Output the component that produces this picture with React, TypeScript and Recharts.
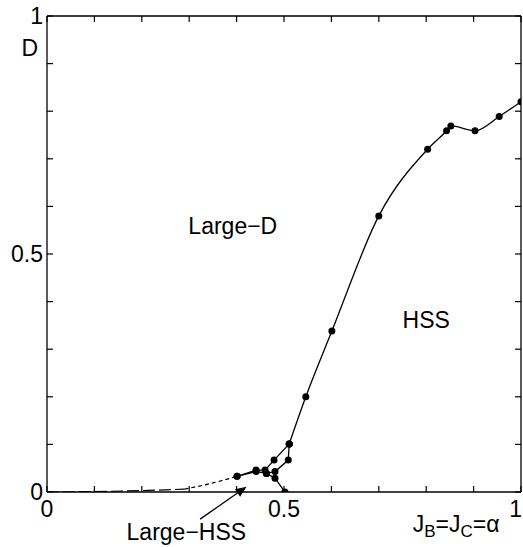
import { LineChart, Line, XAxis, YAxis, ReferenceLine, ReferenceDot } from 'recharts';

const FONT = '"Liberation Sans", Arial, Helvetica, sans-serif';
const FS = 23;
const PLOT_W = 474;
const PLOT_H = 476;

const xTicks = [0, 0.1, 0.2, 0.3, 0.4, 0.5, 0.6, 0.7, 0.8, 0.9, 1];
const yTicks = [0, 0.1, 0.2, 0.3, 0.4, 0.5, 0.6, 0.7, 0.8, 0.9, 1];
const tickLabels: Record<string, string> = { '0': '0', '0.5': '0.5', '1': '1' };

// Large-D / HSS boundary
const mainX = [0.511, 0.546, 0.601, 0.7, 0.803, 0.843, 0.852, 0.903, 0.954, 1.0];
const mainY = [0.101, 0.2, 0.338, 0.58, 0.72, 0.759, 0.769, 0.759, 0.789, 0.82];

// Large-HSS pocket
const upperX = [0.401, 0.441, 0.46, 0.479, 0.511];
const upperY = [0.033, 0.046, 0.046, 0.067, 0.101];
const lowerX = [0.401, 0.441, 0.463, 0.481, 0.509, 0.511];
const lowerY = [0.033, 0.043, 0.039, 0.043, 0.067, 0.101];
const branchX = [0.463, 0.481, 0.502];
const branchY = [0.039, 0.029, 0.0];

// dashed extrapolation
const flatX = [0, 0.1, 0.2, 0.29];
const flatY = [0, 0.001, 0.003, 0.006];
const tailX = [0.29, 0.35, 0.401];
const tailY = [0.006, 0.019, 0.033];

const rows = (xs: number[], ys: number[]) => xs.map((x, i) => ({ x, y: ys[i] }));

const dotStyle = { r: 3.5, fill: '#000', stroke: '#000', strokeWidth: 0 };

// x axis sits at y=492, left axis at x=47
const XTick = (p: any) => {
  const { x, payload } = p;
  const y = 492;
  const lbl = tickLabels[String(payload.value)];
  const last = payload.value === 1;
  return (
    <g>
      <line x1={x} y1={y} x2={x} y2={y - 6} stroke="#000" strokeWidth={1.2} />
      <line x1={x} y1={y - PLOT_H} x2={x} y2={y - PLOT_H + 6} stroke="#000" strokeWidth={1.2} />
      {lbl && (
        <text x={last ? x + 1 : x} y={y + 25} textAnchor={last ? 'end' : 'middle'} fontSize={FS} fontFamily={FONT} fill="#000">
          {lbl}
        </text>
      )}
    </g>
  );
};

const YTick = (p: any) => {
  const { y, payload } = p;
  const x = 47;
  const lbl = tickLabels[String(payload.value)];
  return (
    <g>
      <line x1={x} y1={y} x2={x + 6} y2={y} stroke="#000" strokeWidth={1.2} />
      <line x1={x + PLOT_W} y1={y} x2={x + PLOT_W - 6} y2={y} stroke="#000" strokeWidth={1.2} />
      {lbl && (
        <text x={x - 4} y={y + 8} textAnchor="end" fontSize={FS} fontFamily={FONT} fill="#000">
          {lbl}
        </text>
      )}
    </g>
  );
};

const Arrow = (p: any) => {
  const { x1, y1, x2, y2 } = p;
  const a = Math.atan2(y2 - y1, x2 - x1);
  const L = 11;
  const W = 4.5;
  const bx = x2 - L * Math.cos(a);
  const by = y2 - L * Math.sin(a);
  const pts = `${x2},${y2} ${bx - W * Math.sin(a)},${by + W * Math.cos(a)} ${bx + W * Math.sin(a)},${by - W * Math.cos(a)}`;
  return (
    <g>
      <line x1={x1} y1={y1} x2={bx} y2={by} stroke="#000" strokeWidth={1.3} />
      <polygon points={pts} fill="#000" />
    </g>
  );
};

const note = (text: string) => (props: any) => {
  const vb = props.viewBox;
  return (
    <text x={vb.x + vb.width / 2} y={vb.y + vb.height / 2} textAnchor="middle" fontSize={FS} fontFamily={FONT} fill="#000">
      {text}
    </text>
  );
};

export default function App() {
  return (
    <div style={{ position: 'absolute', left: 0, top: 0, background: '#fff' }}>
      <LineChart width={523} height={547} margin={{ top: 16, right: 2, bottom: 25, left: 7 }}>
        <XAxis
          type="number"
          dataKey="x"
          domain={[0, 1]}
          ticks={xTicks}
          interval={0}
          height={30}
          tickSize={0}
          tickMargin={0}
          tickLine={false}
          tick={(p: any) => <XTick {...p} />}
          axisLine={{ stroke: '#000', strokeWidth: 1.3 }}
          allowDataOverflow
        />
        <YAxis
          type="number"
          dataKey="y"
          domain={[0, 1]}
          ticks={yTicks}
          interval={0}
          width={40}
          tickSize={0}
          tickMargin={0}
          tickLine={false}
          tick={(p: any) => <YTick {...p} />}
          axisLine={{ stroke: '#000', strokeWidth: 1.3 }}
          allowDataOverflow
        />
        <ReferenceLine y={1} stroke="#000" strokeWidth={1.3} />
        <ReferenceLine x={1} stroke="#000" strokeWidth={1.3} />

        <Line data={rows(flatX, flatY)} dataKey="y" type="monotone" stroke="#000" strokeWidth={1.2} strokeDasharray="12 4" dot={false} activeDot={false} isAnimationActive={false} />
        <Line data={rows(tailX, tailY)} dataKey="y" type="monotone" stroke="#000" strokeWidth={1.2} strokeDasharray="4 3" dot={false} activeDot={false} isAnimationActive={false} />
        <Line data={rows(upperX, upperY)} dataKey="y" type="linear" stroke="#000" strokeWidth={1.3} dot={dotStyle} activeDot={false} isAnimationActive={false} />
        <Line data={rows(lowerX, lowerY)} dataKey="y" type="linear" stroke="#000" strokeWidth={1.3} dot={dotStyle} activeDot={false} isAnimationActive={false} />
        <Line data={rows(branchX, branchY)} dataKey="y" type="linear" stroke="#000" strokeWidth={1.3} dot={dotStyle} activeDot={false} isAnimationActive={false} />
        <Line data={rows(mainX, mainY)} dataKey="y" type="monotone" stroke="#000" strokeWidth={1.3} dot={dotStyle} activeDot={false} isAnimationActive={false} />

        <ReferenceDot x={0.392} y={0.542} r={0} fill="none" stroke="none" label={note('Large−D')} />
        <ReferenceDot x={0.8} y={0.345} r={0} fill="none" stroke="none" label={note('HSS')} />
        <ReferenceDot x={0.294} y={-0.101} r={0} fill="none" stroke="none" ifOverflow="visible" label={note('Large−HSS')} />
        <ReferenceDot x={-0.036} y={0.915} r={0} fill="none" stroke="none" ifOverflow="visible" label={note('D')} />
        <ReferenceLine
          segment={[{ x: 0.323, y: -0.057 }, { x: 0.421, y: 0.011 }]}
          ifOverflow="visible"
          shape={Arrow}
        />
        <ReferenceDot
          x={0.863}
          y={-0.084}
          r={0}
          fill="none"
          stroke="none"
          ifOverflow="visible"
          label={(props: any) => {
            const vb = props.viewBox;
            return (
              <text x={vb.x} y={vb.y} textAnchor="middle" fontSize={FS} fontFamily={FONT} fill="#000">
                J<tspan fontSize={17} dy={5}>B</tspan>
                <tspan dy={-5}>=J</tspan>
                <tspan fontSize={17} dy={5}>C</tspan>
                <tspan dy={-5}>=α</tspan>
              </text>
            );
          }}
        />
      </LineChart>
    </div>
  );
}
